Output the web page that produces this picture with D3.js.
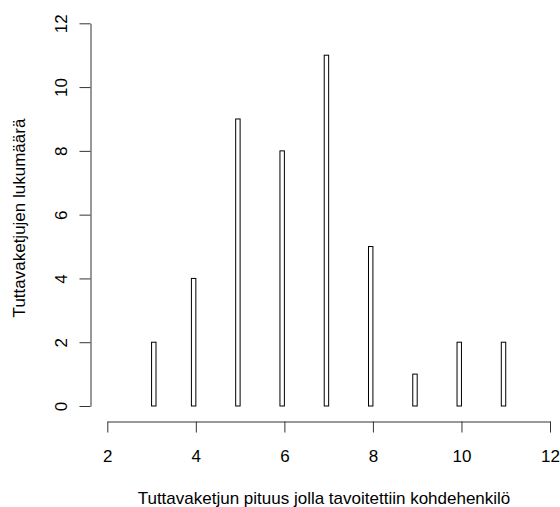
<!DOCTYPE html>
<html>
<head>
<meta charset="utf-8">
<script src="https://cdn.jsdelivr.net/npm/d3@7"></script>
<style>
  body { margin: 0; background: #fff; }
  text { font-family: "Liberation Sans", Arial, sans-serif; fill: #000; }
</style>
</head>
<body>
<svg id="chart" width="560" height="507"></svg>
<script>
// chain lengths and how many chains had each length
const lengths = [3, 4, 5, 6, 7, 8, 9, 10, 11]
const counts  = [2, 4, 9, 8, 11, 5, 1, 2, 2]
const xTicks  = [2, 4, 6, 8, 10, 12]
const yTicks  = [0, 2, 4, 6, 8, 10, 12]
const binWidth = 0.1

const svg = d3.select("#chart")

const x = d3.scaleLinear().domain([2, 12]).range([107.3, 550])
const y = d3.scaleLinear().domain([0, 12]).range([406, 23.3])

// hist bins: first bin is [3, 3.1], the rest are (v-0.1, v]
const bins = []
for (let b = 3; b < 11 - 1e-9; b += binWidth) {
	bins.push({x0: b, x1: b + binWidth, n: 0})
}
lengths.forEach(function(v, i) {
	let idx = v === 3 ? 0 : Math.round((v - 3) / binWidth) - 1
	bins[idx].n = counts[i]
})

svg.append("g")
	.selectAll("rect")
	.data(bins)
	.enter()
	.append("rect")
	.attr("x", function(d) { return x(d.x0) })
	.attr("y", function(d) { return y(d.n) })
	.attr("width", function(d) { return x(d.x1) - x(d.x0) })
	.attr("height", function(d) { return y(0) - y(d.n) })
	.attr("fill", "none")
	.attr("stroke", "#000")
	.attr("stroke-width", 1)

// x axis
const xAxis = svg.append("g")
	.attr("transform", "translate(0,421.5)")
	.call(d3.axisBottom(x).tickValues(xTicks).tickSize(11).tickSizeOuter(0).tickPadding(17))
xAxis.select(".domain").attr("stroke", "#333")
xAxis.selectAll(".tick line").attr("stroke", "#333")
xAxis.selectAll("text").style("font-size", "17px")

// y axis
const yAxis = svg.append("g")
	.attr("transform", "translate(90.5,0)")
	.call(d3.axisLeft(y).tickValues(yTicks).tickSize(11).tickSizeOuter(0))
yAxis.select(".domain").attr("stroke", "#333")
yAxis.selectAll(".tick line").attr("stroke", "#333")
yAxis.selectAll("text")
	.style("font-size", "17px")
	.attr("text-anchor", "middle")
	.attr("dy", "0.35em")
	.attr("transform", "translate(-29,0) rotate(-90)")
	.attr("x", 0)

svg.append("text")
	.attr("x", 324)
	.attr("y", 504)
	.attr("text-anchor", "middle")
	.style("font-size", "17px")
	.text("Tuttavaketjun pituus jolla tavoitettiin kohdehenkilö")

svg.append("text")
	.attr("transform", "translate(25,218) rotate(-90)")
	.attr("text-anchor", "middle")
	.style("font-size", "17px")
	.text("Tuttavaketjujen lukumäärä")
</script>
</body>
</html>
